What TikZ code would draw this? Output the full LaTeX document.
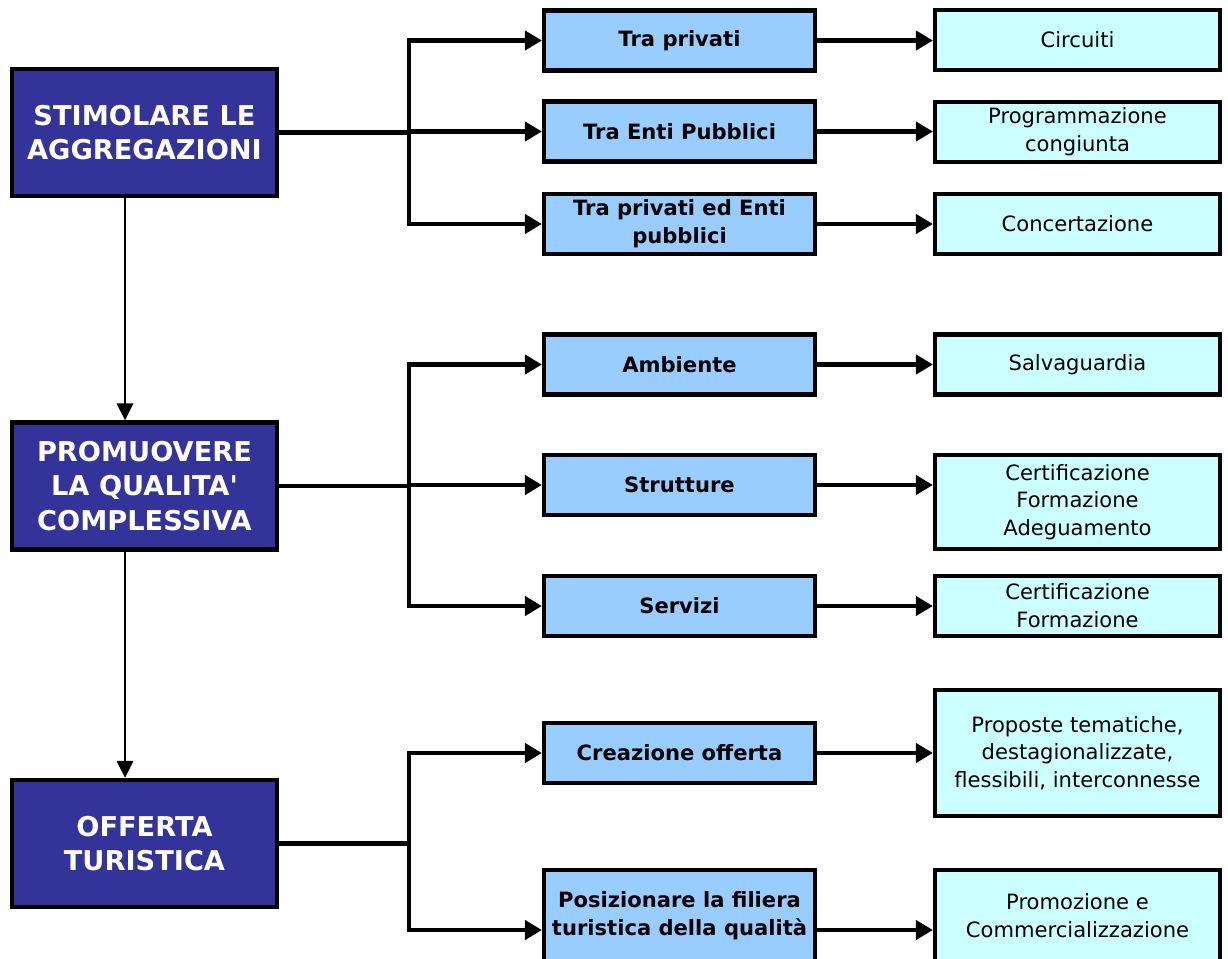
\documentclass[tikz,border=0pt]{standalone}
\usepackage{fontspec}
\setmainfont{DejaVu Sans}
\usepackage{tikz}
\usetikzlibrary{arrows.meta,positioning,calc}
\definecolor{aggblu}{HTML}{333399}
\definecolor{midblu}{HTML}{99CCFF}
\definecolor{leafcy}{HTML}{CCFFFF}

\begin{document}
\begin{tikzpicture}[x=0.02cm, y=-0.02cm,
  mainbox/.style={draw, line width=2.4pt, fill=aggblu, text=white, align=center, inner sep=0pt,
    font=\fontsize{15.5}{19.8}\selectfont\bfseries, minimum width=5.3cm, minimum height=2.54cm},
  midbox/.style={draw, line width=2.4pt, fill=midblu, align=center, inner sep=0pt,
    font=\fontsize{12}{15.8}\selectfont\bfseries, minimum width=5.42cm, minimum height=1.2cm},
  leafbox/.style={draw, line width=2.4pt, fill=leafcy, align=center, inner sep=0pt,
    font=\fontsize{12}{15.8}\selectfont, minimum width=5.7cm, minimum height=1.2cm},
  bus/.style={line width=2.4pt},
  link/.style={line width=2.4pt, -{Triangle[length=0.34cm,width=0.38cm]}},
  down/.style={line width=1.7pt, -{Triangle[length=0.34cm,width=0.32cm]}}]
\useasboundingbox (0,0) rectangle (1228,958);
\clip (0,0) rectangle (1228,958);

% main column
\node[mainbox] (stim) at (144.5,132.5) {STIMOLARE LE\\AGGREGAZIONI};
\node[mainbox] (qual) at (144.5,486) {PROMUOVERE\\LA QUALITA\textquotesingle\\COMPLESSIVA};
\node[mainbox] (offe) at (144.5,843.5) {OFFERTA\\TURISTICA};

% middle column
\node[midbox] (tp)  at (679.5,40.5)  {Tra privati};
\node[midbox] (ep)  at (679.5,131.5) {Tra Enti Pubblici};
\node[midbox] (tpe) at (679.5,224)   {Tra privati ed Enti\\pubblici};
\node[midbox] (amb) at (679.5,364.5) {Ambiente};
\node[midbox] (str) at (679.5,485)   {Strutture};
\node[midbox] (ser) at (679.5,606)   {Servizi};
\node[midbox] (cre) at (679.5,753)   {Creazione offerta};
\node[midbox, minimum height=1.84cm] (pos) at (679.5,916) {Posizionare la filiera\\turistica della qualità};

% right column
\node[leafbox] (circ)  at (1077.5,40)    {Circuiti};
\node[leafbox] (progr) at (1077.5,132)   {Programmazione\\congiunta};
\node[leafbox] (conc)  at (1077.5,224)   {Concertazione};
\node[leafbox] (salv)  at (1077.5,364.5) {Salvaguardia};
\node[leafbox, minimum height=1.88cm] (certa) at (1077.5,502) {Certificazione\\Formazione\\Adeguamento};
\node[leafbox] (certb) at (1077.5,606)   {Certificazione\\Formazione};
\node[leafbox, minimum height=2.52cm] (prop) at (1077.5,753) {Proposte tematiche,\\destagionalizzate,\\flessibili, interconnesse};
\node[leafbox, minimum height=1.84cm] (comm) at (1077.5,916) {Promozione e\\Commercializzazione};

% buses
\coordinate (agg) at (409,132.5);
\coordinate (qly) at (409,486);
\coordinate (tur) at (409,843.5);
\coordinate (fil) at (409,930);

\draw[bus] (stim.east) -- (agg);
\foreach \m in {tp,ep,tpe} \draw[link] (agg) |- (\m.west);
\draw[bus] (qual.east) -- (qly);
\foreach \m in {amb,str,ser} \draw[link] (qly) |- (\m.west);
\draw[bus] (offe.east) -- (tur);
\draw[link] (tur) |- (cre.west);
\draw[link] (tur) |- (pos.west |- fil);

\foreach \m/\r in {tp/circ,ep/progr,tpe/conc,amb/salv,str/certa,ser/certb,cre/prop}
  \draw[link] (\m.east) -- (\m.east -| \r.west);
\draw[link] (pos.east |- fil) -- (comm.west |- fil);

% down the main column
\draw[down] ([xshift=-0.39cm]stim.south) -- ([xshift=-0.39cm]qual.north);
\draw[down] ([xshift=-0.39cm]qual.south) -- ([xshift=-0.39cm]offe.north);
\end{tikzpicture}
\end{document}
